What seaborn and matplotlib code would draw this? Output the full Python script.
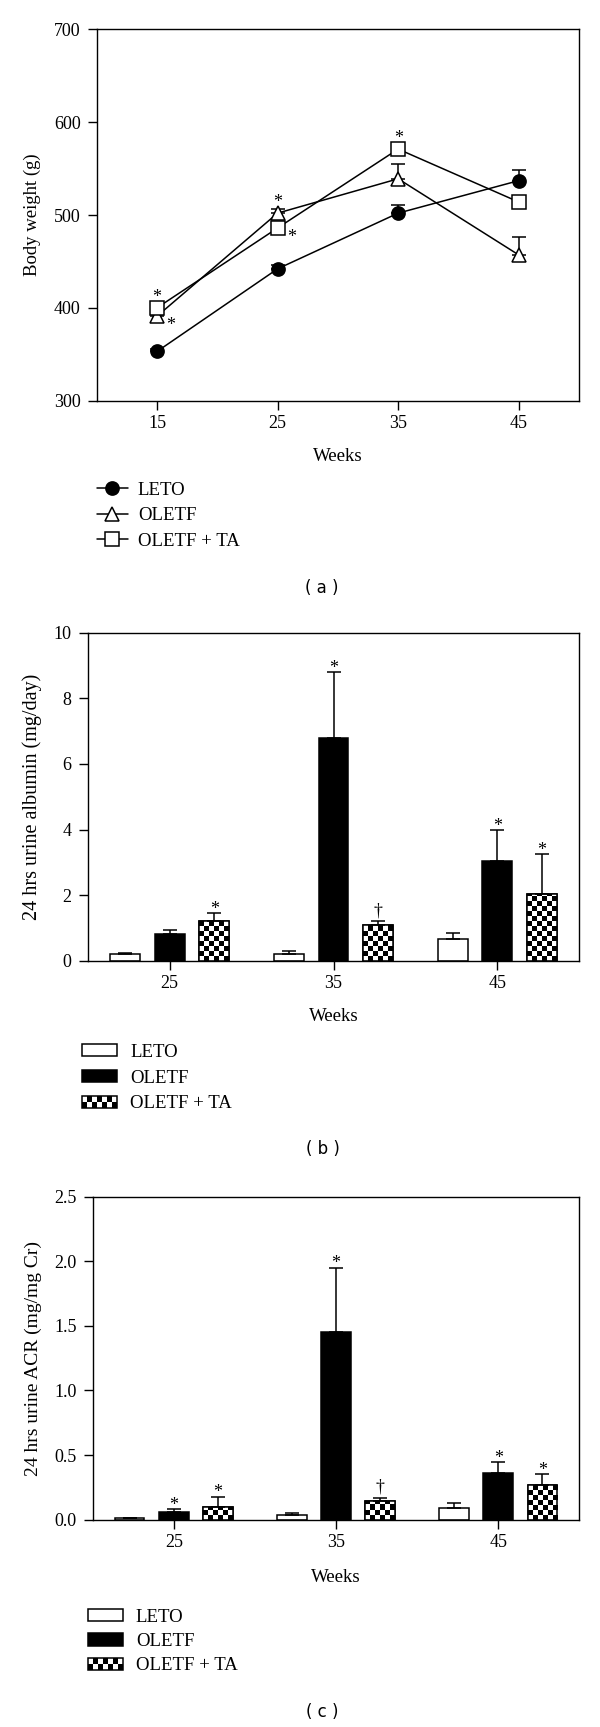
import numpy as np
import pandas as pd
import matplotlib
matplotlib.use('Agg')
import matplotlib.pyplot as plt
import seaborn as sns
from matplotlib.patches import Patch, Rectangle
from matplotlib.lines import Line2D
from matplotlib.legend_handler import HandlerBase

sns.set_theme(style='ticks', rc={'axes.edgecolor': 'black', 'text.color': 'black',
                                 'xtick.color': 'black', 'ytick.color': 'black',
                                 'axes.labelcolor': 'black'})
plt.rcParams['font.family'] = ['Liberation Serif', 'DejaVu Serif']

groups = ['LETO', 'OLETF', 'OLETF + TA']

# (a) body weight (g)
bw_weeks = [15, 25, 35, 45]
bw_leto = [353, 442, 502, 537]
bw_oletf = [391, 502, 539, 457]
bw_ta = [400, 486, 571, 514]
bw_leto_err = [3, 4, 9, 11]
bw_oletf_err = [4, 5, 16, 19]
bw_ta_err = [4, 5, 5, 5]
bw_sig = [(15, 'OLETF + TA', 'above'), (15, 'OLETF', 'right'),
          (25, 'OLETF', 'above'), (25, 'OLETF + TA', 'right'),
          (35, 'OLETF + TA', 'above')]

# (b) 24 hrs urine albumin (mg/day)
bar_weeks = ['25', '35', '45']
alb_leto = [0.20, 0.19, 0.67]
alb_oletf = [0.81, 6.80, 3.05]
alb_ta = [1.21, 1.08, 2.04]
alb_leto_err = [0.05, 0.11, 0.16]
alb_oletf_err = [0.13, 1.99, 0.93]
alb_ta_err = [0.23, 0.12, 1.21]
alb_sig = [['', '', ''], ['', '*', '*'], ['*', '†', '*']]

# (c) 24 hrs urine ACR (mg/mg Cr)
acr_leto = [0.013, 0.036, 0.09]
acr_oletf = [0.06, 1.455, 0.358]
acr_ta = [0.10, 0.142, 0.268]
acr_leto_err = [0.003, 0.018, 0.04]
acr_oletf_err = [0.023, 0.495, 0.089]
acr_ta_err = [0.078, 0.028, 0.082]
acr_sig = [['', '', ''], ['*', '*', '*'], ['*', '†', '*']]

W, H = 600, 1727
LW = 1.1
TICK_FS = 13
TXT_FS = 13.5


class CheckerHandler(HandlerBase):
    def create_artists(self, legend, orig_handle, xdescent, ydescent,
                       width, height, fontsize, trans):
        arts = []
        nx, ny = 7, 2
        cw, chh = width / nx, height / ny
        for i in range(nx):
            for j in range(ny):
                if (i + j) % 2 == 0:
                    arts.append(Rectangle((-xdescent + i * cw, -ydescent + j * chh), cw, chh,
                                          facecolor='black', edgecolor='none', transform=trans))
        arts.append(Rectangle((-xdescent, -ydescent), width, height, facecolor='none',
                              edgecolor='black', lw=LW, transform=trans))
        return arts


def px_axes(l, t, r, b):
    return [l / W, 1 - b / H, (r - l) / W, (b - t) / H]


def style_axes(ax):
    for s in ax.spines.values():
        s.set_linewidth(1.0)
        s.set_color('black')
    ax.tick_params(direction='out', length=6.5, width=1.0, labelsize=TICK_FS, colors='black')
    ax.tick_params(axis='y', pad=5)
    ax.tick_params(axis='x', pad=3.5)


fig = plt.figure(figsize=(W / 100, H / 100), dpi=100)

# ---------- panel (a)
ax = fig.add_axes(px_axes(96.7, 29.3, 579, 400.7))
series = {'LETO': (bw_leto, bw_leto_err, 'o', 'black'),
          'OLETF': (bw_oletf, bw_oletf_err, '^', 'white'),
          'OLETF + TA': (bw_ta, bw_ta_err, 's', 'white')}
for g, (vals, errs, mk, fc) in series.items():
    ax.errorbar(bw_weeks, vals, yerr=[np.zeros(len(errs)), errs], fmt='none', ecolor='black',
                elinewidth=LW, capsize=5, capthick=LW, zorder=1.5)
    sns.lineplot(x=bw_weeks, y=vals, ax=ax, color='black', lw=LW, marker=mk, markersize=9.5,
                 markerfacecolor=fc, markeredgecolor='black', markeredgewidth=LW)
for wk, g, where in bw_sig:
    y = series[g][0][bw_weeks.index(wk)]
    off = (0, 4.5) if where == 'above' else (10, -10)
    ax.annotate('*', (wk, y), xytext=off, textcoords='offset points', ha='center',
                va='baseline', fontsize=TICK_FS)
ax.set_xlim(10, 50)
ax.set_ylim(300, 700)
ax.set_xticks(bw_weeks)
ax.set_yticks([300, 400, 500, 600, 700])
style_axes(ax)
ax.set_xlabel('Weeks', fontsize=TXT_FS, labelpad=11.5)
ax.set_ylabel('Body weight (g)', fontsize=13.5)
ax.yaxis.set_label_coords(-0.1155, 0.5)
handles = [Line2D([], [], color='black', lw=LW, marker='o', ms=9.5, mfc='black', mec='black', mew=LW),
           Line2D([], [], color='black', lw=LW, marker='^', ms=9.5, mfc='white', mec='black', mew=LW),
           Line2D([], [], color='black', lw=LW, marker='s', ms=9.5, mfc='white', mec='black', mew=LW)]
fig.legend(handles, groups, loc='upper left', bbox_to_anchor=(96.7 / W, 1 - 481.5 / H),
           frameon=False, borderpad=0, borderaxespad=0, handlelength=1.67, handletextpad=0.53,
           labelspacing=0.45, fontsize=TXT_FS)
fig.text(322 / W, 1 - 588 / H, '( a )', ha='center', va='center', family='DejaVu Sans', fontsize=12)


# ---------- bar panels
def bar_panel(box, vals, errs, sigs, ymax, yticks, fmt, ylabel, ylfs, ylx, xlpad,
              leg_xy, leg_sp, lab, lab_y):
    ax = fig.add_axes(px_axes(*box))
    rows = []
    for g, v in zip(groups, vals):
        for wk, y in zip(bar_weeks, v):
            rows.append({'week': wk, 'group': g, 'value': y})
    df = pd.DataFrame(rows)
    sns.barplot(data=df, x='week', y='value', hue='group', order=bar_weeks, hue_order=groups,
                palette=['white', 'black', 'white'], saturation=1, edgecolor='black',
                linewidth=LW, width=0.817, gap=0.33, errorbar=None, legend=False, ax=ax)
    ax.set_xlim(-0.5, 2.5)
    ax.set_ylim(0, ymax)
    ax_h_px = box[3] - box[1]
    cell_h = ymax * 5 / ax_h_px
    bars = list(ax.patches)
    for gi in range(3):
        gb = bars[3 * gi:3 * gi + 3]
        cx = [p.get_x() + p.get_width() / 2 for p in gb]
        tops = [p.get_height() for p in gb]
        ax.errorbar(cx, tops, yerr=[np.zeros(3), errs[gi]], fmt='none', ecolor='black',
                    elinewidth=LW, capsize=5, capthick=LW, zorder=3)
        for k, p in enumerate(gb):
            s = sigs[gi][k]
            if s:
                off = (0, -0.5) if s == '*' else (0, 4.2)
                ax.annotate(s, (cx[k], tops[k] + errs[gi][k]), xytext=off, textcoords='offset points',
                            ha='center', va='baseline', fontsize=TICK_FS)
            if gi == 2:
                x0, w, h = p.get_x(), p.get_width(), p.get_height()
                nr = int(np.ceil(h / cell_h))
                arr = (np.add.outer(np.arange(nr), np.arange(6)) % 2).astype(float)
                im = ax.imshow(arr, cmap='binary', vmin=0, vmax=1, extent=(x0, x0 + w, 0, nr * cell_h),
                               origin='lower', aspect='auto', interpolation='nearest',
                               zorder=p.get_zorder() + 0.1)
                im.set_clip_path(p)
                ax.add_patch(Rectangle((x0, 0), w, h, fill=False, edgecolor='black', lw=LW,
                                       zorder=p.get_zorder() + 0.2))
    ax.set_xlim(-0.5, 2.5)
    ax.set_ylim(0, ymax)
    ax.set_yticks(yticks)
    ax.set_yticklabels([fmt.format(t) for t in yticks])
    style_axes(ax)
    ax.set_xlabel('Weeks', fontsize=TXT_FS, labelpad=xlpad)
    ax.set_ylabel(ylabel, fontsize=ylfs)
    ax.yaxis.set_label_coords(ylx, 0.5)
    checker = Patch(facecolor='white', edgecolor='black')
    hs = [Patch(facecolor='white', edgecolor='black', lw=LW),
          Patch(facecolor='black', edgecolor='black', lw=LW), checker]
    fig.legend(hs, groups, loc='upper left', bbox_to_anchor=(leg_xy[0] / W, 1 - leg_xy[1] / H),
               frameon=False, borderpad=0, borderaxespad=0, handlelength=1.87, handleheight=0.62,
               handletextpad=0.68, labelspacing=leg_sp, fontsize=TXT_FS,
               handler_map={checker: CheckerHandler()})
    fig.text(322.5 / W, 1 - lab_y / H, lab, ha='center', va='center', family='DejaVu Sans', fontsize=12)
    return ax


bar_panel((87.7, 632.7, 579.3, 960.7), [alb_leto, alb_oletf, alb_ta],
          [alb_leto_err, alb_oletf_err, alb_ta_err], alb_sig, 10, [0, 2, 4, 6, 8, 10], '{:g}',
          '24 hrs urine albumin (mg/day)', 14.5, -0.093, 11.5, (82.3, 1044), 0.46, '( b )', 1149)

bar_panel((92.7, 1196.5, 579.3, 1519.7), [acr_leto, acr_oletf, acr_ta],
          [acr_leto_err, acr_oletf_err, acr_ta_err], acr_sig, 2.5, [0, 0.5, 1.0, 1.5, 2.0, 2.5],
          '{:.1f}', '24 hrs urine ACR (mg/mg Cr)', 14, -0.104, 13, (88, 1609), 0.38, '( c )', 1712)

fig.savefig('out.png', dpi=100)
